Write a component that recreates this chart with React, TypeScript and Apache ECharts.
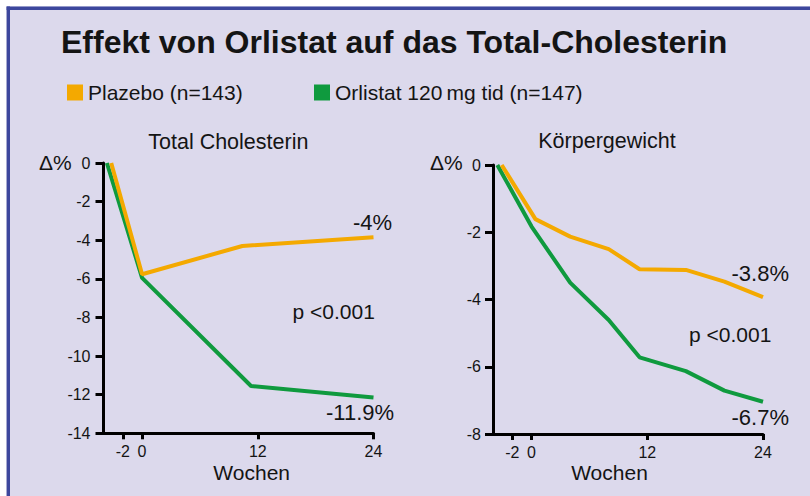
import React, { useEffect, useRef } from "react";
import * as echarts from "echarts";

const titleText = "Effekt von Orlistat auf das Total-Cholesterin";
const namePlacebo = "Plazebo (n=143)";
const nameOrlistat = "Orlistat 120\u2009mg tid (n=147)";
const panelTitles = ["Total Cholesterin", "Körpergewicht"];
const xAxisTitle = "Wochen";
const yAxisTitle = "Δ%";
const xTickValues = [-2, 0, 12, 24];

// Total Cholesterin (change in %)
const tcPlaceboWeeks = [-3.2, 0, 10.4, 24];
const tcPlaceboValues = [0, -5.76, -4.3, -3.85];
const tcOrlistatWeeks = [-3.65, 0, 11.3, 24];
const tcOrlistatValues = [0, -5.95, -11.55, -12.15];

// Körpergewicht (change in %)
const kgPlaceboWeeks = [-3.1, 0.4, 4, 8, 11.2, 16, 20, 24];
const kgPlaceboValues = [0, -1.61, -2.13, -2.5, -3.1, -3.12, -3.47, -3.93];
const kgOrlistatWeeks = [-3.55, 0, 4, 8, 11.2, 16, 20, 24];
const kgOrlistatValues = [0, -1.83, -3.5, -4.61, -5.72, -6.13, -6.71, -7.04];

const annotations = [
  { text: "-4%", x: 353, y: 222.4 },
  { text: "p <0.001", x: 292.5, y: 311 },
  { text: "-11.9%", x: 326, y: 412.4 },
  { text: "-3.8%", x: 731.5, y: 273.1 },
  { text: "p <0.001", x: 689, y: 334.7 },
  { text: "-6.7%", x: 731.5, y: 417.4 },
];

const ORANGE = "#f4a900";
const GREEN = "#0f9a3e";
const BG = "#dcd9ec";
const BORDER = "#3d479d";
const INK = "#141414";
const FONT = "'Liberation Sans', Arial, Helvetica, sans-serif";

const zip = (xs: number[], ys: number[]) => xs.map((x, i) => [x, ys[i]]);

export default function App() {
  const ref = useRef<HTMLDivElement>(null);

  useEffect(() => {
    document.body.style.margin = "0";
    if (!ref.current) return;
    const chart = echarts.init(ref.current, null, { renderer: "svg" });

    const xAxisBase = (gridIndex: number) => ({
      type: "value",
      gridIndex,
      min: -4,
      max: 24,
      axisLine: { show: true, onZero: false, lineStyle: { color: "#000", width: 3 } },
      axisTick: { show: true, customValues: xTickValues, length: 6, lineStyle: { color: "#000", width: 3 } },
      axisLabel: { customValues: xTickValues, fontSize: 16, color: INK, margin: 10, fontFamily: FONT },
      splitLine: { show: false },
    });

    const yAxisBase = (gridIndex: number, min: number, margin: number) => ({
      type: "value",
      gridIndex,
      min,
      max: 0,
      interval: 2,
      axisLine: { show: true, onZero: false, lineStyle: { color: "#000", width: 3 } },
      axisTick: { show: true, length: 8, lineStyle: { color: "#000", width: 3 } },
      axisLabel: { fontSize: 16, color: INK, margin, fontFamily: FONT },
      splitLine: { show: false },
    });

    const lineSeries = (name: string, color: string, idx: number, data: number[][]) => ({
      type: "line",
      name,
      xAxisIndex: idx,
      yAxisIndex: idx,
      data,
      symbol: "none",
      showSymbol: false,
      lineStyle: { color, width: 4 },
      itemStyle: { color },
      z: 3,
    });

    const legendBase = (name: string, left: number) => ({
      data: [name],
      left,
      top: 82,
      padding: 0,
      itemWidth: 16,
      itemHeight: 16,
      icon: "rect",
      selectedMode: false,
      itemStyle: { borderWidth: 0 },
      textStyle: { fontSize: 21, color: INK, fontFamily: FONT },
    });

    const txt = (text: string, x: number, y: number, fontSize: number, align = "left", fontWeight = "normal") => ({
      type: "text",
      x,
      y,
      silent: true,
      z: 10,
      style: {
        text,
        fontSize,
        fontWeight,
        fontFamily: FONT,
        fill: INK,
        align,
        verticalAlign: "middle",
      },
    });

    chart.setOption({
      animation: false,
      backgroundColor: BG,
      textStyle: { fontFamily: FONT },
      grid: [
        { left: 103.5, top: 163, width: 270, height: 270.3 },
        { left: 493, top: 165, width: 270, height: 269 },
      ],
      xAxis: [xAxisBase(0), xAxisBase(1)],
      yAxis: [yAxisBase(0, -14, 13), yAxisBase(1, -8, 12)],
      legend: [legendBase(namePlacebo, 67), legendBase(nameOrlistat, 314)],
      series: [
        lineSeries(nameOrlistat, GREEN, 0, zip(tcOrlistatWeeks, tcOrlistatValues)),
        lineSeries(namePlacebo, ORANGE, 0, zip(tcPlaceboWeeks, tcPlaceboValues)),
        lineSeries(nameOrlistat, GREEN, 1, zip(kgOrlistatWeeks, kgOrlistatValues)),
        lineSeries(namePlacebo, ORANGE, 1, zip(kgPlaceboWeeks, kgPlaceboValues)),
      ],
      graphic: [
        { type: "rect", silent: true, shape: { x: 0, y: 0, width: 810, height: 6.6 }, style: { fill: "#ffffff" } },
        { type: "rect", silent: true, shape: { x: 0, y: 0, width: 6.6, height: 496 }, style: { fill: "#ffffff" } },
        { type: "rect", silent: true, shape: { x: 6.6, y: 6.6, width: 803.4, height: 3.4 }, style: { fill: BORDER } },
        { type: "rect", silent: true, shape: { x: 6.6, y: 6.6, width: 3.4, height: 489.4 }, style: { fill: BORDER } },
        txt(titleText, 61, 42.2, 32, "left", "bold"),
        txt(panelTitles[0], 228.3, 141.9, 21.5, "center"),
        txt(panelTitles[1], 607, 140.9, 21.5, "center"),
        txt(yAxisTitle, 39, 162.7, 21),
        txt(yAxisTitle, 430, 162.7, 21),
        txt(xAxisTitle, 251.7, 472.7, 21, "center"),
        txt(xAxisTitle, 609.5, 472.7, 21, "center"),
        ...annotations.map((a) => txt(a.text, a.x, a.y, a.text.startsWith("p") ? 21 : 22)),
      ],
    });

    return () => chart.dispose();
  }, []);

  return <div ref={ref} style={{ width: 810, height: 496, overflow: "hidden" }} />;
}
